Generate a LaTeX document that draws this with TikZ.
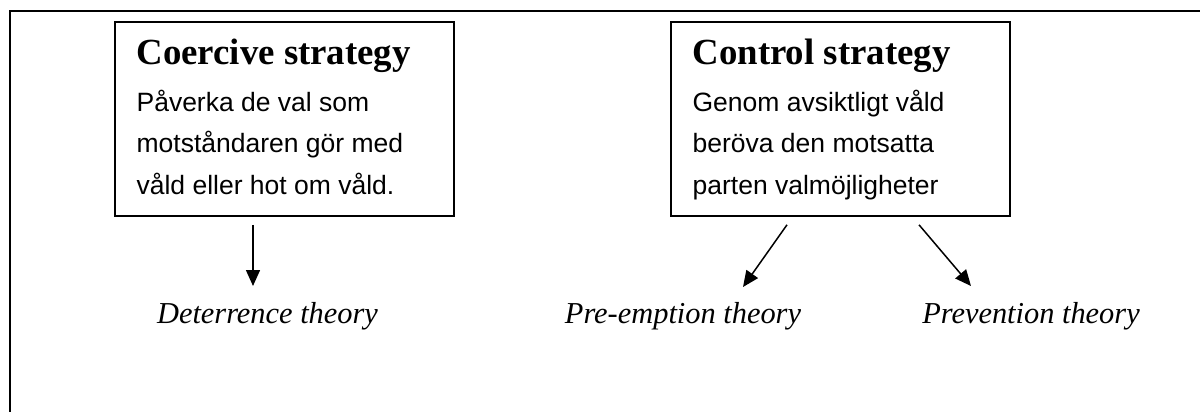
\documentclass[tikz,border=0pt]{standalone}
\usepackage{fontspec}
\setmainfont{Liberation Serif}
\newfontfamily\bodyfont{Liberation Sans}
\usetikzlibrary{%
  arrows.meta,%
  positioning
}

\begin{document}
\begin{tikzpicture}[x=0.5pt,y=-0.5pt,
    stratbox/.style={draw,line width=0.8pt,minimum width=169.5pt,minimum height=97pt,inner sep=0pt},
    stratname/.style={font=\bfseries\fontsize{18.4pt}{22pt}\selectfont,inner sep=0pt,anchor=base west},
    stratbody/.style={font=\bodyfont\fontsize{13.25pt}{20.75pt}\selectfont,align=left,inner sep=0pt,anchor=base west},
    theory/.style={font=\itshape\fontsize{15.2pt}{18pt}\selectfont,inner sep=0pt,anchor=base},
    arr/.style={-{Triangle[length=8pt,width=7pt]},line width=0.75pt}]
      \useasboundingbox (0,0) rectangle (1200,412);
      \draw [line width=1pt] (10,412) -- (10,11) -- (1200,11);
      % the two strategies
      \node [stratbox] (coer) at (284.5,119) {};
      \node [stratname] (coername) at ([xshift=11pt,yshift=-21.5pt]coer.north west) {Coercive strategy};
      \node [stratbody] (coertext) at ([xshift=11pt,yshift=-86.5pt]coer.north west) {Påverka de val som\\motståndaren gör med\\våld eller hot om våld.};
      \node [stratbox] (ctrl) at (840.5,119) {};
      \node [stratname] (ctrlname) at ([xshift=11pt,yshift=-21.5pt]ctrl.north west) {Control strategy};
      \node [stratbody] (ctrltext) at ([xshift=11pt,yshift=-86.5pt]ctrl.north west) {Genom avsiktligt våld\\beröva den motsatta\\parten valmöjligheter};
      % the theories
      \node [theory] (det) at (267.5,323) {Deterrence theory};
      \node [theory] (pre) at (683,323) {Pre-emption theory};
      \node [theory] (prev) at (1031,323) {Prevention theory};
      \draw [arr] ([xshift=-15.75pt,yshift=-4pt]coer.south) -- ([xshift=-7.25pt,yshift=18.5pt]det.base);
      \draw [arr] ([xshift=-26.75pt,yshift=-4pt]ctrl.south) -- ([xshift=30pt,yshift=18pt]pre.base);
      \draw [arr] ([xshift=39.25pt,yshift=-4pt]ctrl.south) -- ([xshift=-30pt,yshift=18.5pt]prev.base);
    \end{tikzpicture}
\end{document}
